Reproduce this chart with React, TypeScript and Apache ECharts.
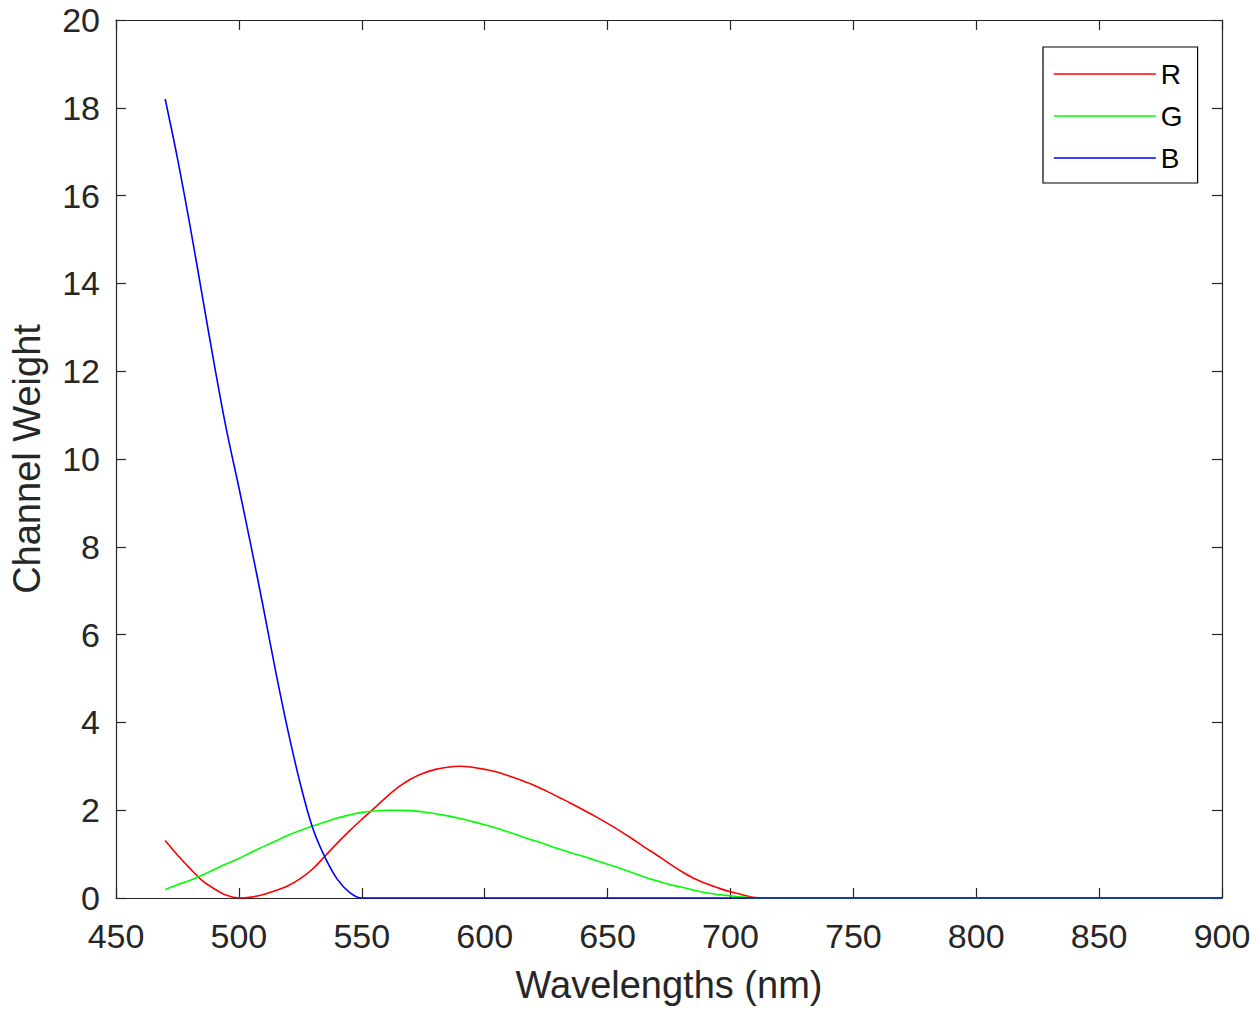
import React, { useEffect, useRef } from "react";
import * as echarts from "echarts";

const wavelengths = [
  470, 475, 480, 485, 490, 495, 500, 505, 510, 515,
  520, 525, 530, 535, 540, 545, 550, 555, 560, 565,
  570, 575, 580, 585, 590, 595, 600, 605, 610, 615,
  620, 625, 630, 635, 640, 645, 650, 655, 660, 665,
  670, 675, 680, 685, 690, 695, 700, 705, 710, 715,
  900,
];

const redValues = [
  1.31, 0.98, 0.68, 0.4, 0.21, 0.06, 0.0, 0.02, 0.08, 0.17,
  0.28, 0.44, 0.66, 0.95, 1.25, 1.53, 1.79, 2.04, 2.3, 2.53,
  2.71, 2.84, 2.93, 2.98, 3.0, 2.98, 2.93, 2.87, 2.78, 2.68,
  2.57, 2.44, 2.3, 2.16, 2.01, 1.86, 1.7, 1.53, 1.35, 1.16,
  0.98, 0.79, 0.61, 0.45, 0.33, 0.23, 0.14, 0.07, 0.01, 0,
  0,
];

const greenValues = [
  0.19, 0.3, 0.4, 0.52, 0.65, 0.78, 0.9, 1.04, 1.17, 1.3,
  1.43, 1.54, 1.64, 1.73, 1.82, 1.89, 1.95, 1.98, 2.0, 2.0,
  1.99, 1.96, 1.92, 1.87, 1.81, 1.74, 1.67, 1.59, 1.5, 1.4,
  1.31, 1.22, 1.12, 1.03, 0.95, 0.86, 0.77, 0.68, 0.58, 0.48,
  0.39, 0.31, 0.25, 0.18, 0.12, 0.08, 0.05, 0.02, 0, 0,
  0,
];

const blueValues = [
  18.2, 16.85, 15.35, 13.75, 12.15, 10.65, 9.35, 8.0, 6.6, 5.15,
  3.8, 2.6, 1.6, 0.93, 0.43, 0.13, 0, 0, 0, 0,
  0, 0, 0, 0, 0, 0, 0, 0, 0, 0,
  0, 0, 0, 0, 0, 0, 0, 0, 0, 0,
  0, 0, 0, 0, 0, 0, 0, 0, 0, 0,
  0,
];

const seriesNames = ["R", "G", "B"];
const seriesColors = ["#ff0000", "#00ff00", "#0000ff"];
const seriesValues = [redValues, greenValues, blueValues];

const FONT = "'Liberation Sans', Arial, Helvetica, sans-serif";
const AXIS_COLOR = "#262626";

export default function App() {
  const ref = useRef<HTMLDivElement>(null);

  useEffect(() => {
    if (!ref.current) return;
    const chart = echarts.init(ref.current, undefined, { renderer: "svg" });

    const baseX = {
      type: "value" as const,
      min: 450,
      max: 900,
      interval: 50,
      splitLine: { show: false },
      axisLine: { show: true, onZero: false, lineStyle: { color: AXIS_COLOR, width: 1.2 } },
      axisTick: { show: true, inside: true, length: 10, lineStyle: { color: AXIS_COLOR, width: 1.2 } },
    };
    const baseY = {
      type: "value" as const,
      min: 0,
      max: 20,
      interval: 2,
      splitLine: { show: false },
      axisLine: { show: true, onZero: false, lineStyle: { color: AXIS_COLOR, width: 1.2 } },
      axisTick: { show: true, inside: true, length: 10, lineStyle: { color: AXIS_COLOR, width: 1.2 } },
    };

    chart.setOption({
      animation: false,
      backgroundColor: "#ffffff",
      textStyle: { fontFamily: FONT },
      grid: { left: 110, right: 38, top: 20, bottom: 115, containLabel: false },
      legend: {
        data: seriesNames,
        orient: "vertical",
        left: 1043,
        top: 47,
        itemWidth: 102,
        itemHeight: 14,
        itemGap: 14,
        padding: [13, 15, 11, 10],
        borderColor: "#000000",
        borderWidth: 1.2,
        backgroundColor: "#ffffff",
        itemStyle: { opacity: 0 },
        lineStyle: { width: 1.6 },
        textStyle: { fontSize: 28, color: "#000000", fontFamily: FONT },
      },
      xAxis: [
        {
          ...baseX,
          position: "bottom",
          name: "Wavelengths (nm)",
          nameLocation: "middle",
          nameGap: 68,
          nameTextStyle: { fontSize: 38, color: AXIS_COLOR, fontFamily: FONT },
          axisLabel: { show: true, fontSize: 34, color: AXIS_COLOR, margin: 21, fontFamily: FONT },
        },
        {
          ...baseX,
          position: "top",
          axisLabel: { show: false },
        },
      ],
      yAxis: [
        {
          ...baseY,
          position: "left",
          name: "Channel Weight",
          nameLocation: "middle",
          nameGap: 70,
          nameTextStyle: { fontSize: 38, color: AXIS_COLOR, fontFamily: FONT },
          axisLabel: { show: true, fontSize: 34, color: AXIS_COLOR, margin: 16, fontFamily: FONT },
        },
        {
          ...baseY,
          position: "right",
          axisLabel: { show: false },
        },
      ],
      series: seriesNames.map((name, i) => ({
        name,
        type: "line",
        xAxisIndex: 0,
        yAxisIndex: 0,
        symbol: "none",
        showSymbol: false,
        smooth: 0.35,
        lineStyle: { color: seriesColors[i], width: 1.6 },
        itemStyle: { color: seriesColors[i] },
        data: wavelengths.map((w, j) => [w, seriesValues[i][j]]),
        z: 2 + i,
      })),
    });

    return () => chart.dispose();
  }, []);

  return (
    <div
      ref={ref}
      style={{ position: "fixed", left: 0, top: 0, width: 1260, height: 1013, background: "#ffffff" }}
    />
  );
}
